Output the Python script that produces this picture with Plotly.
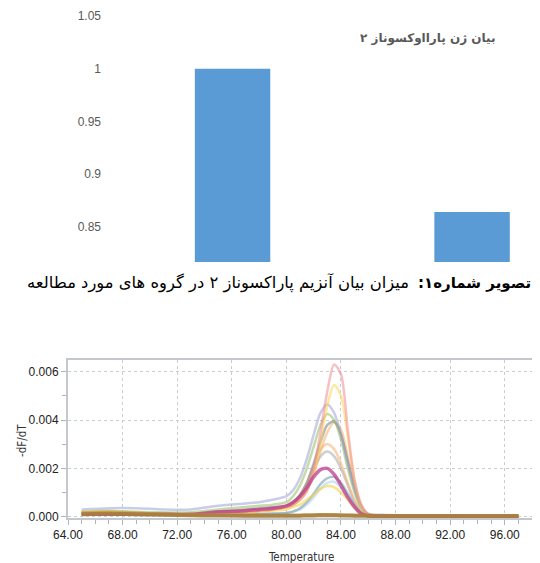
import plotly.graph_objects as go

# ---------------- top bar chart data ----------------
bar_x = [0, 1]
bar_values = [1.0, 0.864]
bar_ticks = [0.85, 0.9, 0.95, 1.0, 1.05]
bar_ticktext = ["0.85", "0.9", "0.95", "1", "1.05"]
bar_title = "بیان ژن پارااوکسوناز ۲"
caption_bold = "تصویر شماره۱:\u200f"
caption_rest = "میزان بیان آنزیم پاراکسوناز ۲ در گروه های مورد مطالعه"

# ---------------- melt curve data ----------------
T = [65, 67, 69, 71, 73, 75, 77, 78, 79, 80, 80.5, 81, 81.5, 82, 82.5, 83, 83.5,
     84, 84.5, 85, 85.5, 86, 87, 90, 94, 97]
x_ticks = [64, 68, 72, 76, 80, 84, 88, 92, 96]
x_ticktext = ["64.00", "68.00", "72.00", "76.00", "80.00", "84.00", "88.00", "92.00", "96.00"]
y_ticks = [0, 0.002, 0.004, 0.006]
y_ticktext = ["0.000", "0.002", "0.004", "0.006"]

pink = [0.00015, 0.00015, 0.00012, 0.0001, 0.0001, 0.00015, 0.0002, 0.00025, 0.0003, 0.0004, 0.0005,
        0.0007, 0.00105, 0.002, 0.0035, 0.0052, 0.0063, 0.0059, 0.0036, 0.0015, 0.0005, 0.0001,
        0.00004, 0.00003, 0.00002, 0.00002]
yellow = [0.0002, 0.0002, 0.00015, 0.00012, 0.00012, 0.00015, 0.0002, 0.00025, 0.0003, 0.0004, 0.0005,
          0.0007, 0.0011, 0.0018, 0.0031, 0.0046, 0.00545, 0.0050, 0.0033, 0.0015, 0.0004, 0.0001,
          0.00004, 0.00003, 0.00002, 0.00002]
lavender = [0.0003, 0.00035, 0.00035, 0.0003, 0.0003, 0.00045, 0.00055, 0.0006, 0.0007, 0.00085, 0.0011,
            0.0016, 0.0024, 0.0034, 0.0043, 0.00465, 0.0043, 0.0034, 0.0022, 0.0011, 0.0004, 0.00012,
            0.00008, 0.00005, 0.00003, 0.00003]
green = [0.0002, 0.00025, 0.0002, 0.00018, 0.00018, 0.0003, 0.0004, 0.00045, 0.0005, 0.0006, 0.00085,
         0.0013, 0.0020, 0.0029, 0.0038, 0.00425, 0.0040, 0.0032, 0.0020, 0.0010, 0.00035, 0.0001,
         0.00005, 0.00003, 0.00003, 0.00003]
dark_gray = [0.00015, 0.00015, 0.00012, 0.0001, 0.0001, 0.0002, 0.0003, 0.00035, 0.0004, 0.00045, 0.0006,
             0.0009, 0.0014, 0.0022, 0.0031, 0.0038, 0.00395, 0.0034, 0.0023, 0.0012, 0.0004, 0.0001,
             0.00004, 0.00003, 0.00002, 0.00002]
orange1 = [0.00015, 0.00015, 0.00012, 0.0001, 0.0001, 0.00015, 0.0002, 0.00025, 0.0003, 0.0004, 0.0005,
           0.0007, 0.0011, 0.0018, 0.0027, 0.0035, 0.0039, 0.0036, 0.0025, 0.0013, 0.0004, 0.0001,
           0.00004, 0.00003, 0.00002, 0.00002]
orange2 = [0.0002, 0.0002, 0.00015, 0.00012, 0.00012, 0.0002, 0.00025, 0.0003, 0.00035, 0.00045, 0.0006,
           0.0009, 0.0014, 0.0021, 0.0028, 0.0030, 0.0028, 0.0022, 0.0014, 0.0007, 0.0002, 0.00006,
           0.00004, 0.00003, 0.00002, 0.00002]
light_gray = [0.00012, 0.00012, 0.0001, 0.0001, 0.0001, 0.00015, 0.0002, 0.00025, 0.0003, 0.0004, 0.0005,
              0.0008, 0.0012, 0.0019, 0.0025, 0.0027, 0.0025, 0.0020, 0.0013, 0.0006, 0.0002, 0.00006,
              0.00004, 0.00003, 0.00002, 0.00002]
magenta = [0.0001, 0.0001, 0.0001, 0.0001, 0.0001, 0.0002, 0.00025, 0.0003, 0.00035, 0.00045, 0.0006,
           0.00085, 0.0012, 0.00165, 0.00195, 0.0020, 0.00175, 0.0013, 0.0008, 0.0004, 0.00012, 0.00003,
           0.00002, 0.00002, 0.00002, 0.00002]
teal_gray = [0.0001, 0.0001, 0.00008, 0.00008, 0.00008, 0.0001, 0.0001, 0.00012, 0.00013, 0.00015, 0.00022,
             0.00035, 0.0006, 0.00095, 0.00135, 0.0016, 0.00165, 0.0014, 0.00095, 0.0005, 0.00015, 0.00004,
             0.00002, 0.00002, 0.00002, 0.00002]
yellow2 = [0.00012, 0.00012, 0.0001, 0.0001, 0.0001, 0.00012, 0.00015, 0.0002, 0.00025, 0.0003, 0.0004,
           0.0005, 0.0007, 0.0009, 0.00115, 0.00127, 0.00122, 0.0010, 0.0007, 0.00035, 0.0001, 0.00003,
           0.00002, 0.00002, 0.00002, 0.00002]
light_blue = [0.00008, 0.00008, 0.00006, 0.00006, 0.00006, 0.00008, 0.0001, 0.0001, 0.00012, 0.00015, 0.0002,
              0.0003, 0.0005, 0.0008, 0.00115, 0.0014, 0.00145, 0.0012, 0.0008, 0.0004, 0.00012, 0.00003,
              0.00002, 0.00002, 0.00002, 0.00002]
flat_brown = [0.0001, 0.00012, 0.0001, 0.00008, 0.00006, 0.00005, 0.00004, 0.00004, 0.00004, 0.00004, 0.00004,
              0.00004, 0.00005, 0.00005, 0.00006, 0.00006, 0.00006, 0.00005, 0.00005, 0.00004, 0.00004, 0.00004,
              0.00003, 0.00003, 0.00003, 0.00003]
flat_olive = [0.00015, 0.00018, 0.00015, 0.0001, 0.00008, 0.00006, 0.00005, 0.00005, 0.00005, 0.00005, 0.00005,
              0.00005, 0.00006, 0.00007, 0.00008, 0.00008, 0.00007, 0.00006, 0.00005, 0.00005, 0.00005, 0.00004,
              0.00004, 0.00004, 0.00004, 0.00004]

curves = [
    (light_blue, "rgba(170,210,235,0.55)", 2.5),
    (teal_gray, "rgba(110,150,175,0.55)", 2.5),
    (yellow2, "rgba(245,210,70,0.6)", 2.5),
    (light_gray, "rgba(160,160,160,0.5)", 2.5),
    (orange2, "rgba(245,175,110,0.55)", 2.5),
    (orange1, "rgba(245,170,90,0.5)", 2.5),
    (dark_gray, "rgba(115,125,125,0.55)", 2.5),
    (green, "rgba(150,190,100,0.55)", 2.5),
    (lavender, "rgba(150,155,210,0.5)", 2.5),
    (yellow, "rgba(250,215,90,0.55)", 2.5),
    (pink, "rgba(240,140,150,0.55)", 2.5),
    (magenta, "rgba(190,60,140,0.75)", 3.5),
    (flat_olive, "rgba(200,160,70,0.7)", 3.5),
    (flat_brown, "rgba(165,125,60,0.85)", 4),
]

W, H = 540, 563
OFF = 8  # page body margin offset


def px_x(p):
    return (p - OFF) / W


def px_y(p):
    return 1 - (p - OFF) / H


fig = go.Figure()

fig.add_trace(go.Bar(x=bar_x, y=bar_values, width=0.315, marker=dict(color="#5b9bd5", line=dict(width=0)),
                     xaxis="x", yaxis="y", showlegend=False))

for ys, col, w in curves:
    fig.add_trace(go.Scatter(x=T, y=ys, mode="lines", line=dict(color=col, width=w, shape="spline", smoothing=0.8),
                             xaxis="x2", yaxis="y2", showlegend=False))

tick_font = dict(family="Liberation Sans Narrow, Arial Narrow, sans-serif", size=12, color="#222")
title_font = dict(family="DejaVu Sans Condensed, DejaVu Sans", size=11.5, color="#333")

fig.update_layout(
    width=W, height=H,
    margin=dict(l=0, r=0, t=0, b=0, autoexpand=False),
    paper_bgcolor="white", plot_bgcolor="rgba(0,0,0,0)",
    xaxis=dict(domain=[px_x(102), 1.0], range=[-0.545, 1.317], visible=False, anchor="y", automargin=False),
    yaxis=dict(domain=[px_y(262), px_y(10)], range=[0.8166, 1.0557], anchor="x", automargin=False,
               tickvals=bar_ticks, ticktext=bar_ticktext, showgrid=False, zeroline=False,
               showline=False, ticks="", tickfont=dict(family="Liberation Sans, Arial", size=12, color="#595959")),
    xaxis2=dict(domain=[px_x(68), px_x(533)], range=[64, 98.07], anchor="y2", automargin=False,
                tickvals=x_ticks, ticktext=x_ticktext,
                showgrid=True, gridcolor="#c9cdd2", griddash="dot", gridwidth=1,
                showline=True, linecolor="#c4c8cc", linewidth=2, mirror=True, zeroline=False,
                ticks="outside", ticklen=5, tickcolor="#b0b4b8",
                minor=dict(dtick=1, ticks="outside", ticklen=4, tickcolor="#b0b4b8", showgrid=False),
                tickfont=tick_font),
    yaxis2=dict(domain=[px_y(518), px_y(360)], range=[-0.000054, 0.00649], anchor="x2", automargin=False,
                tickvals=y_ticks, ticktext=y_ticktext,
                showgrid=True, gridcolor="#c9cdd2", griddash="dot", gridwidth=1,
                showline=True, linecolor="#c4c8cc", linewidth=2, mirror=True, zeroline=False,
                ticks="outside", ticklen=5, tickcolor="#b0b4b8",
                minor=dict(dtick=0.001, ticks="outside", ticklen=4, tickcolor="#b0b4b8", showgrid=False),
                tickfont=tick_font),
    annotations=[
        dict(text=bar_title, x=px_x(427), y=px_y(38), xref="paper", yref="paper", showarrow=False,
             xanchor="center", yanchor="middle",
             font=dict(family="DejaVu Sans", size=12, color="#595959", weight="bold")),
        dict(text=caption_bold, x=px_x(474), y=px_y(283), xref="paper", yref="paper", showarrow=False,
             xanchor="center", yanchor="middle",
             font=dict(family="DejaVu Sans", size=15, color="#000", weight="bold")),
        dict(text=caption_rest, x=px_x(218), y=px_y(283), xref="paper", yref="paper", showarrow=False,
             xanchor="center", yanchor="middle",
             font=dict(family="DejaVu Sans", size=16.4, color="#000")),
        dict(text="Temperature", x=px_x(301), y=px_y(557), xref="paper", yref="paper", showarrow=False,
             xanchor="center", yanchor="middle", font=title_font),
        dict(text="-dF/dT", x=px_x(22), y=px_y(441), xref="paper", yref="paper", showarrow=False,
             xanchor="center", yanchor="middle", textangle=-90, font=title_font),
    ],
)

fig.write_html("out.html")
